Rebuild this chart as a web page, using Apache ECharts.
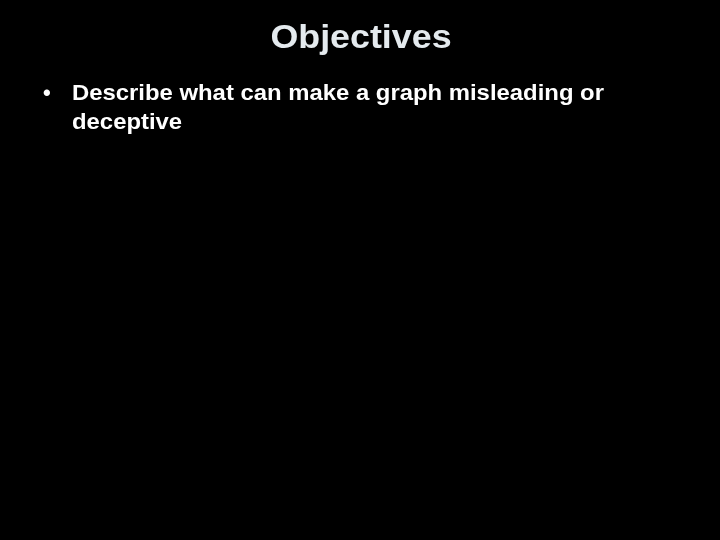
<!DOCTYPE html>
<html>
<head>
<meta charset="utf-8">
<script src="https://cdn.jsdelivr.net/npm/echarts@6/dist/echarts.min.js"></script>
<style>
html,body{margin:0;padding:0;background:#000;}
#main{width:720px;height:540px;}
</style>
</head>
<body>
<div id="main"></div>
<script>
var titleText = 'Objectives';
var bullets = ['•'];
var bulletLines = ['Describe what can make a graph misleading or', 'deceptive'];

var FONT = '"Liberation Sans", Arial, sans-serif';
var chart = echarts.init(document.getElementById('main'), null, {renderer: 'canvas'});
var elements = [];
elements.push({
  type: 'text', x: 361, y: 22, scaleX: 1.085,
  style: { x: 0, y: 0, text: titleText, align: 'center', verticalAlign: 'top',
           fill: '#e4eaee', font: 'bold 33px ' + FONT }
});
elements.push({
  type: 'text', x: 43, y: 83,
  style: { x: 0, y: 0, text: bullets[0], verticalAlign: 'top',
           fill: '#ffffff', font: 'bold 22px ' + FONT }
});
bulletLines.forEach(function (t, i) {
  elements.push({
    type: 'text', x: 72, y: 83 + i * 28.5, scaleX: 1.085,
    style: { x: 0, y: 0, text: t, verticalAlign: 'top',
             fill: '#ffffff', font: 'bold 22px ' + FONT }
  });
});
chart.setOption({
  backgroundColor: '#000000',
  graphic: { elements: elements }
});
</script>
</body>
</html>
